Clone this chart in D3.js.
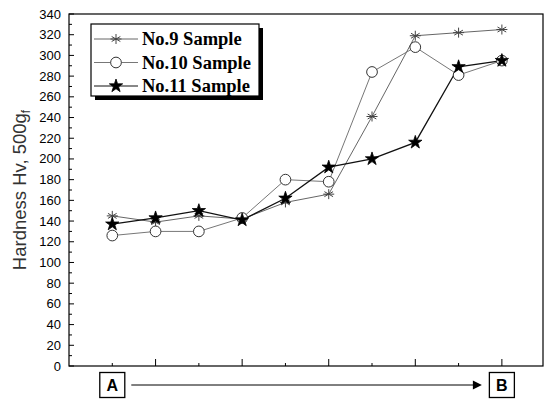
<!DOCTYPE html>
<html><head><meta charset="utf-8">
<script src="https://cdn.jsdelivr.net/npm/d3@7"></script>
<style>body{margin:0;background:#fff}svg{display:block}</style>
</head><body>
<script>
const positions = [1,2,3,4,5,6,7,8,9,10];
const seriesNames = ["No.9 Sample","No.10 Sample","No.11 Sample"];
const no9  = [145,139,145,142,158,166,241,319,322,325];
const no10 = [126,130,130,143,180,178,284,308,281,295];
const no11 = [137,143,150,141,162,192,200,216,289,295];
const yTicks = [0,20,40,60,80,100,120,140,160,180,200,220,240,260,280,300,320,340];
const yLabel = "Hardness Hv, 500g";
const yLabelSub = "f";
const startLabel = "A", endLabel = "B";

const W=551,H=401;
const svg=d3.select("body").append("svg").attr("width",W).attr("height",H);
const L=69,R=543,T=14,B=366;
const x=d3.scaleLinear().domain([0,10.95]).range([L,R]);
const y=d3.scaleLinear().domain([0,340]).range([B,T]);

// frame
svg.append("rect").attr("x",L).attr("y",T).attr("width",R-L).attr("height",B-T)
  .attr("fill","none").attr("stroke","#000").attr("stroke-width",1.2);

// y axis ticks inward
const yAx=svg.append("g").attr("transform",`translate(${L},0)`);
const yMinor=d3.range(0,341,10);
yAx.selectAll("line.mn").data(yMinor).join("line")
  .attr("x1",0).attr("x2",d=>d%20===0?5:3).attr("y1",d=>y(d)).attr("y2",d=>y(d))
  .attr("stroke","#000").attr("stroke-width",1);
yAx.selectAll("text").data(yTicks).join("text")
  .attr("x",-8).attr("y",d=>y(d)).attr("dy","0.35em").attr("text-anchor","end")
  .attr("font-family","Liberation Sans, Arial, sans-serif").attr("font-size",13).text(d=>d);

// x ticks inward
svg.append("g").selectAll("line").data(positions).join("line")
  .attr("x1",d=>x(d)).attr("x2",d=>x(d)).attr("y1",B).attr("y2",d=>d%2===0?B-7:B-3)
  .attr("stroke","#000").attr("stroke-width",1);

// y label
svg.append("text").attr("transform",`translate(26,${(T+B)/2}) rotate(-90)`)
  .attr("text-anchor","middle").attr("font-family","Liberation Sans, Arial, sans-serif")
  .attr("font-size",18.5).attr("fill","#333")
  .text(yLabel).append("tspan").attr("font-size",12).attr("dy",4).text(yLabelSub);

// series
const data=[no9,no10,no11];
const lineCols=["#666","#777","#111"];
const line=d3.line().x((d,i)=>x(positions[i])).y(d=>y(d));
data.forEach((s,k)=>{
  svg.append("path").datum(s).attr("d",line).attr("fill","none")
    .attr("stroke",lineCols[k]).attr("stroke-width",k===2?1.3:1);
});
function marker(g,k){
  if(k===0){
    g.append("path").attr("d",d3.symbol(d3.symbolAsterisk,70)()).attr("fill","none")
      .attr("stroke","#444").attr("stroke-width",1);
    g.append("path").attr("d","M-5.5,0H5.5").attr("stroke","#444").attr("stroke-width",1);
  } else if(k===1){
    g.append("path").attr("d",d3.symbol(d3.symbolCircle,90)()).attr("fill","#fff")
      .attr("stroke","#333").attr("stroke-width",1);
  } else {
    g.append("path").attr("d",d3.symbol(d3.symbolStar,55)()).attr("fill","#000")
      .attr("stroke","#000").attr("stroke-width",0.8);
  }
}
data.forEach((s,k)=>{
  s.forEach((v,i)=>{
    const g=svg.append("g").attr("transform",`translate(${x(positions[i])},${y(v)})`);
    marker(g,k);
  });
});

// legend
const lx=91,ly=24,lw=168,lh=72;
svg.append("rect").attr("x",lx+4).attr("y",ly+4).attr("width",lw).attr("height",lh).attr("fill","#000");
svg.append("rect").attr("x",lx).attr("y",ly).attr("width",lw).attr("height",lh).attr("fill","#fff")
  .attr("stroke","#000").attr("stroke-width",1.2);
seriesNames.forEach((n,k)=>{
  const cy=ly+15+k*23.5;
  svg.append("line").attr("x1",lx+3).attr("x2",lx+47).attr("y1",cy).attr("y2",cy)
    .attr("stroke",lineCols[k]).attr("stroke-width",1);
  marker(svg.append("g").attr("transform",`translate(${lx+25},${cy})`),k);
  svg.append("text").attr("x",lx+51).attr("y",cy).attr("dy","0.35em")
    .attr("font-family","Liberation Serif, Times New Roman, serif").attr("font-weight","bold")
    .attr("font-size",18.5).text(n);
});

// A -> B
const by=385;
function box(cx,t){
  svg.append("rect").attr("x",cx-12.5).attr("y",by-12.5).attr("width",25).attr("height",25)
    .attr("fill","#fff").attr("stroke","#000").attr("stroke-width",1.3);
  svg.append("text").attr("x",cx).attr("y",by).attr("dy","0.36em").attr("text-anchor","middle")
    .attr("font-family","Liberation Sans, Arial, sans-serif").attr("font-weight","bold")
    .attr("font-size",16).text(t);
}
box(x(positions[0]),startLabel);
box(x(positions[positions.length-1]),endLabel);
svg.append("line").attr("x1",x(positions[0])+19).attr("x2",x(positions[positions.length-1])-22)
  .attr("y1",by).attr("y2",by).attr("stroke","#000").attr("stroke-width",1);
const tip=x(positions[positions.length-1])-20;
svg.append("path").attr("d",`M${tip},${by}L${tip-9},${by-4.5}L${tip-9},${by+4.5}Z`).attr("fill","#000");
</script>
</body></html>
